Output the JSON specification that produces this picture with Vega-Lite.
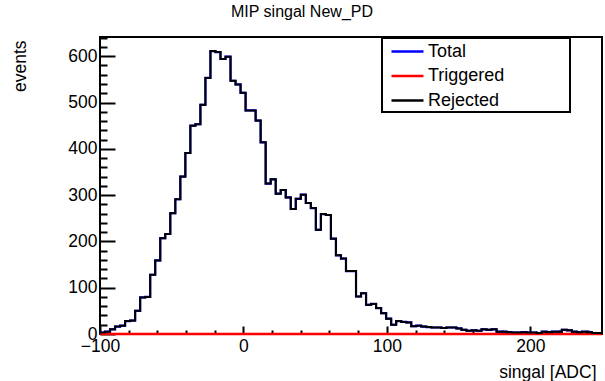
{
  "$schema": "https://vega.github.io/schema/vega-lite/v6.json",
  "width": 502,
  "height": 297,
  "autosize": {"type": "none"},
  "padding": {"left": 100, "top": 37, "right": 3, "bottom": 47},
  "background": "white",
  "title": {"text": "MIP singal New_PD", "fontSize": 16, "fontWeight": "normal", "font": "Liberation Sans", "color": "black", "anchor": "middle", "frame": "group", "dx": -49, "offset": 4, "baseline": "alphabetic"},
  "config": {
    "font": "Liberation Sans",
    "view": {"stroke": "black", "strokeWidth": 2},
    "axis": {"grid": false, "domain": false, "tickColor": "black", "labelColor": "black", "titleColor": "black", "titleFontWeight": "normal", "labelFlush": false, "labelOverlap": false},
    "legend": {"strokeWidth": 2}
  },
  "data": {"values": [
    {"x": -100, "Total": 3, "Triggered": 0, "Rejected": 3},
    {"x": -96.5, "Total": 5, "Triggered": 0, "Rejected": 5},
    {"x": -93, "Total": 10, "Triggered": 0, "Rejected": 10},
    {"x": -89.5, "Total": 16, "Triggered": 0, "Rejected": 16},
    {"x": -86, "Total": 18, "Triggered": 0, "Rejected": 18},
    {"x": -82.5, "Total": 28, "Triggered": 0, "Rejected": 28},
    {"x": -79, "Total": 29, "Triggered": 0, "Rejected": 29},
    {"x": -75.5, "Total": 50, "Triggered": 0, "Rejected": 50},
    {"x": -72, "Total": 79, "Triggered": 0, "Rejected": 79},
    {"x": -68.5, "Total": 80, "Triggered": 0, "Rejected": 80},
    {"x": -65, "Total": 128, "Triggered": 0, "Rejected": 128},
    {"x": -61.5, "Total": 159, "Triggered": 0, "Rejected": 159},
    {"x": -58, "Total": 207, "Triggered": 0, "Rejected": 207},
    {"x": -54.5, "Total": 216, "Triggered": 0, "Rejected": 216},
    {"x": -51, "Total": 261, "Triggered": 0, "Rejected": 261},
    {"x": -47.5, "Total": 291, "Triggered": 0, "Rejected": 291},
    {"x": -44, "Total": 340, "Triggered": 0, "Rejected": 340},
    {"x": -40.5, "Total": 391, "Triggered": 0, "Rejected": 391},
    {"x": -37, "Total": 450, "Triggered": 0, "Rejected": 450},
    {"x": -33.5, "Total": 453, "Triggered": 0, "Rejected": 453},
    {"x": -30, "Total": 495, "Triggered": 0, "Rejected": 495},
    {"x": -26.5, "Total": 553, "Triggered": 0, "Rejected": 553},
    {"x": -23, "Total": 611, "Triggered": 0, "Rejected": 611},
    {"x": -19.5, "Total": 609, "Triggered": 0, "Rejected": 609},
    {"x": -16, "Total": 594, "Triggered": 0, "Rejected": 594},
    {"x": -12.5, "Total": 599, "Triggered": 0, "Rejected": 599},
    {"x": -9, "Total": 547, "Triggered": 0, "Rejected": 547},
    {"x": -5.5, "Total": 539, "Triggered": 0, "Rejected": 539},
    {"x": -2, "Total": 521, "Triggered": 0, "Rejected": 521},
    {"x": 1.5, "Total": 483, "Triggered": 0, "Rejected": 483},
    {"x": 5, "Total": 483, "Triggered": 0, "Rejected": 483},
    {"x": 8.5, "Total": 461, "Triggered": 0, "Rejected": 461},
    {"x": 12, "Total": 414, "Triggered": 0, "Rejected": 414},
    {"x": 15.5, "Total": 325, "Triggered": 0, "Rejected": 325},
    {"x": 19, "Total": 334, "Triggered": 0, "Rejected": 334},
    {"x": 22.5, "Total": 303, "Triggered": 0, "Rejected": 303},
    {"x": 26, "Total": 311, "Triggered": 0, "Rejected": 311},
    {"x": 29.5, "Total": 295, "Triggered": 0, "Rejected": 295},
    {"x": 33, "Total": 270, "Triggered": 0, "Rejected": 270},
    {"x": 36.5, "Total": 292, "Triggered": 0, "Rejected": 292},
    {"x": 40, "Total": 301, "Triggered": 0, "Rejected": 301},
    {"x": 43.5, "Total": 283, "Triggered": 0, "Rejected": 283},
    {"x": 47, "Total": 272, "Triggered": 0, "Rejected": 272},
    {"x": 50.5, "Total": 225, "Triggered": 0, "Rejected": 225},
    {"x": 54, "Total": 259, "Triggered": 0, "Rejected": 259},
    {"x": 57.5, "Total": 257, "Triggered": 0, "Rejected": 257},
    {"x": 61, "Total": 206, "Triggered": 0, "Rejected": 206},
    {"x": 64.5, "Total": 170, "Triggered": 0, "Rejected": 170},
    {"x": 68, "Total": 163, "Triggered": 0, "Rejected": 163},
    {"x": 71.5, "Total": 136, "Triggered": 0, "Rejected": 136},
    {"x": 75, "Total": 136, "Triggered": 0, "Rejected": 136},
    {"x": 78.5, "Total": 81, "Triggered": 0, "Rejected": 81},
    {"x": 82, "Total": 88, "Triggered": 0, "Rejected": 88},
    {"x": 85.5, "Total": 63, "Triggered": 0, "Rejected": 63},
    {"x": 89, "Total": 65, "Triggered": 0, "Rejected": 65},
    {"x": 92.5, "Total": 56, "Triggered": 0, "Rejected": 56},
    {"x": 96, "Total": 45, "Triggered": 0, "Rejected": 45},
    {"x": 99.5, "Total": 33, "Triggered": 0, "Rejected": 33},
    {"x": 103, "Total": 20, "Triggered": 0, "Rejected": 20},
    {"x": 106.5, "Total": 28, "Triggered": 0, "Rejected": 28},
    {"x": 110, "Total": 26, "Triggered": 0, "Rejected": 26},
    {"x": 113.5, "Total": 25, "Triggered": 0, "Rejected": 25},
    {"x": 117, "Total": 17, "Triggered": 0, "Rejected": 17},
    {"x": 120.5, "Total": 18, "Triggered": 0, "Rejected": 18},
    {"x": 124, "Total": 16, "Triggered": 0, "Rejected": 16},
    {"x": 127.5, "Total": 15, "Triggered": 0, "Rejected": 15},
    {"x": 131, "Total": 14, "Triggered": 0, "Rejected": 14},
    {"x": 134.5, "Total": 14, "Triggered": 0, "Rejected": 14},
    {"x": 138, "Total": 13, "Triggered": 0, "Rejected": 13},
    {"x": 141.5, "Total": 14, "Triggered": 0, "Rejected": 14},
    {"x": 145, "Total": 14, "Triggered": 0, "Rejected": 14},
    {"x": 148.5, "Total": 12, "Triggered": 0, "Rejected": 12},
    {"x": 152, "Total": 9, "Triggered": 0, "Rejected": 9},
    {"x": 155.5, "Total": 7, "Triggered": 0, "Rejected": 7},
    {"x": 159, "Total": 8, "Triggered": 0, "Rejected": 8},
    {"x": 162.5, "Total": 7, "Triggered": 0, "Rejected": 7},
    {"x": 166, "Total": 10, "Triggered": 0, "Rejected": 10},
    {"x": 169.5, "Total": 9, "Triggered": 0, "Rejected": 9},
    {"x": 173, "Total": 10, "Triggered": 0, "Rejected": 10},
    {"x": 176.5, "Total": 5, "Triggered": 0, "Rejected": 5},
    {"x": 180, "Total": 5, "Triggered": 0, "Rejected": 5},
    {"x": 183.5, "Total": 4, "Triggered": 0, "Rejected": 4},
    {"x": 187, "Total": 3, "Triggered": 0, "Rejected": 3},
    {"x": 190.5, "Total": 3, "Triggered": 0, "Rejected": 3},
    {"x": 194, "Total": 4, "Triggered": 0, "Rejected": 4},
    {"x": 197.5, "Total": 3, "Triggered": 0, "Rejected": 3},
    {"x": 201, "Total": 3, "Triggered": 0, "Rejected": 3},
    {"x": 204.5, "Total": 2, "Triggered": 0, "Rejected": 2},
    {"x": 208, "Total": 5, "Triggered": 0, "Rejected": 5},
    {"x": 211.5, "Total": 4, "Triggered": 0, "Rejected": 4},
    {"x": 215, "Total": 5, "Triggered": 0, "Rejected": 5},
    {"x": 218.5, "Total": 5, "Triggered": 0, "Rejected": 5},
    {"x": 222, "Total": 9, "Triggered": 0, "Rejected": 9},
    {"x": 225.5, "Total": 8, "Triggered": 0, "Rejected": 8},
    {"x": 229, "Total": 5, "Triggered": 0, "Rejected": 5},
    {"x": 232.5, "Total": 4, "Triggered": 0, "Rejected": 4},
    {"x": 236, "Total": 5, "Triggered": 0, "Rejected": 5},
    {"x": 239.5, "Total": 4, "Triggered": 0, "Rejected": 4},
    {"x": 243, "Total": 2, "Triggered": 0, "Rejected": 2},
    {"x": 246.5, "Total": 2, "Triggered": 0, "Rejected": 2},
    {"x": 250, "Total": 2, "Triggered": 0, "Rejected": 2}
  ]},
  "transform": [{"fold": ["Total", "Triggered", "Rejected"], "as": ["series", "count"]}],
  "layer": [
    {
      "transform": [{"filter": "datum.series === 'Total'"}],
      "mark": {"type": "line", "interpolate": "step-after", "strokeWidth": 2.2},
      "encoding": {
        "x": {"field": "x", "type": "quantitative", "scale": {"domain": [-100, 250], "nice": false, "zero": false},
          "axis": {"orient": "bottom", "values": [-100, 0, 100, 200], "format": "d", "tickSize": -8, "tickWidth": 2, "labelFontSize": 17.5, "labelPadding": 11, "title": "singal [ADC]", "titleFontSize": 17.5, "titleX": 496, "titleY": 43, "titleAlign": "right", "titleBaseline": "alphabetic", "titleAngle": 0}},
        "y": {"field": "count", "type": "quantitative", "scale": {"domain": [0, 641.5], "nice": false},
          "axis": {"orient": "left", "values": [0, 100, 200, 300, 400, 500, 600], "format": "d", "tickSize": -15, "tickWidth": 2, "labelFontSize": 17.5, "labelPadding": 18, "title": "events", "titleFontSize": 17.5, "titleX": -75, "titleY": 3, "titleAngle": -90, "titleAlign": "right", "titleBaseline": "alphabetic"}},
        "color": {"field": "series", "type": "nominal",
          "scale": {"domain": ["Total", "Triggered", "Rejected"], "range": ["#0000ff", "#ff0000", "#000000"]},
          "legend": {"title": null,
            "orient": "none", "legendX": 282, "legendY": 1, "padding": 2, "strokeColor": "black", "fillColor": "white",
            "symbolType": "M-0.4,0H2.8", "symbolSize": 400, "symbolStrokeWidth": 2.5, "labelFontSize": 18, "labelColor": "black", "labelOffset": 21, "rowPadding": 3.5, "labelLimit": 400,
            "labelExpr": "datum.label + '          \u2800'"}}
      }
    },
    {
      "transform": [{"filter": "datum.series === 'Triggered'"}],
      "mark": {"type": "line", "interpolate": "step-after", "strokeWidth": 2.6},
      "encoding": {
        "x": {"field": "x", "type": "quantitative", "axis": null},
        "y": {"field": "count", "type": "quantitative", "axis": null},
        "color": {"field": "series", "type": "nominal"}
      }
    },
    {
      "transform": [{"filter": "datum.series === 'Rejected'"}],
      "mark": {"type": "line", "interpolate": "step-after", "strokeWidth": 2},
      "encoding": {
        "x": {"field": "x", "type": "quantitative", "axis": null},
        "y": {"field": "count", "type": "quantitative", "axis": null},
        "color": {"field": "series", "type": "nominal"}
      }
    },
    {
      "transform": [{"filter": "datum.series === 'Rejected'"}],
      "mark": {"type": "line", "opacity": 0},
      "encoding": {
        "x": {"field": "x", "type": "quantitative",
          "axis": {"orient": "bottom", "values": [-80, -60, -40, -20, 20, 40, 60, 80, 120, 140, 160, 180, 220, 240], "tickSize": -4, "tickWidth": 2, "labels": false, "title": null}},
        "y": {"field": "count", "type": "quantitative",
          "axis": {"orient": "left", "values": [20, 40, 60, 80, 120, 140, 160, 180, 220, 240, 260, 280, 320, 340, 360, 380, 420, 440, 460, 480, 520, 540, 560, 580, 620, 640], "tickSize": -7, "tickWidth": 2, "labels": false, "title": null}}
      }
    }
  ],
  "resolve": {"axis": {"x": "independent", "y": "independent"}}
}
